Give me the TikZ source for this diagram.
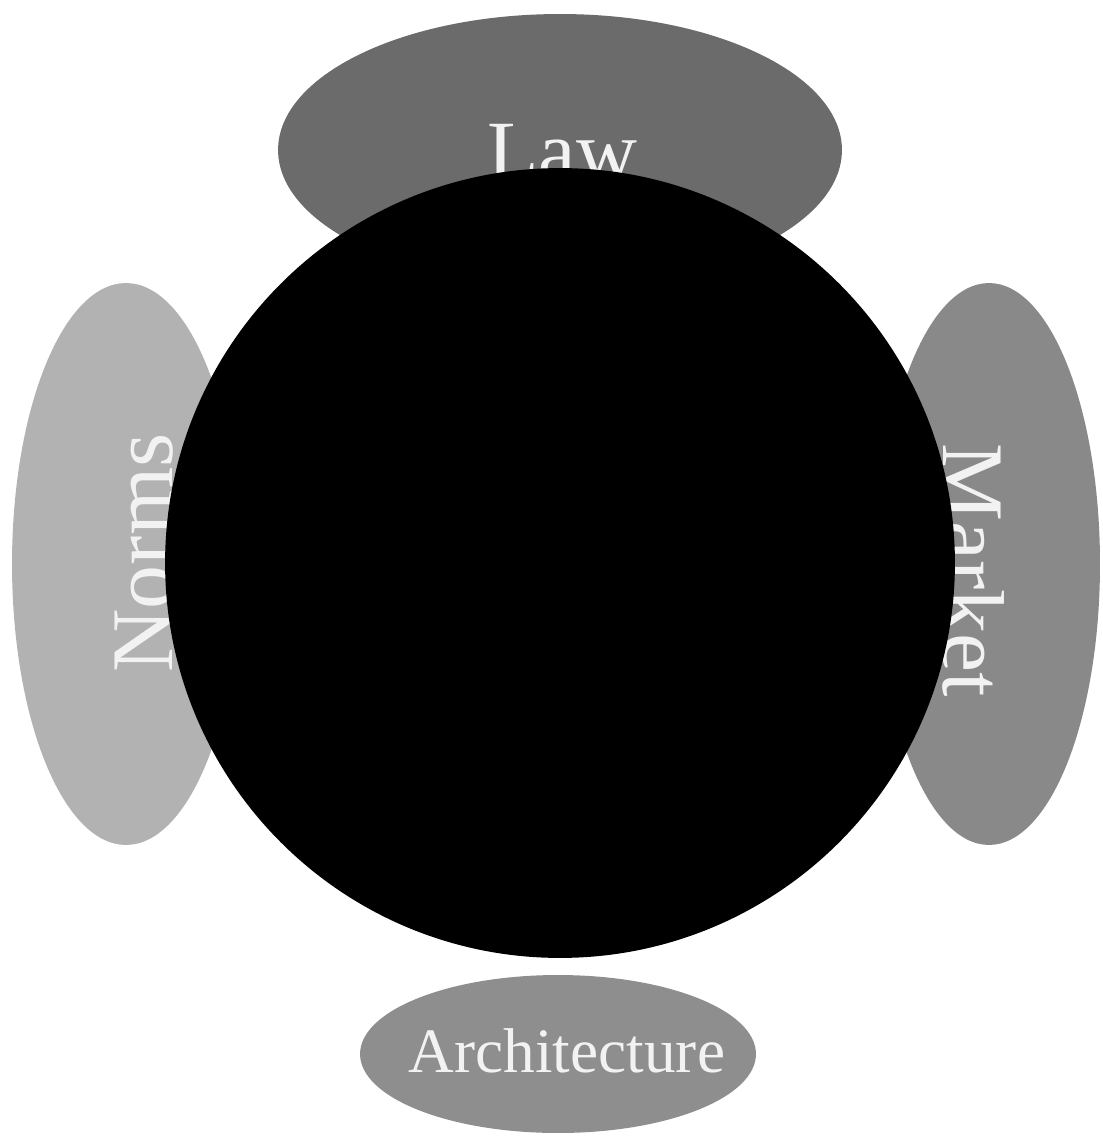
\documentclass[tikz,border=0pt]{standalone}
\usepackage{fontspec}
\setmainfont{Liberation Serif}
\usepackage{tikz}
\usetikzlibrary{shapes.geometric,positioning}
\definecolor{lawgray}{RGB}{107, 107, 107}
\definecolor{normsgray}{RGB}{178, 178, 178}
\definecolor{marketgray}{RGB}{137, 137, 137}
\definecolor{archgray}{RGB}{142, 142, 142}
\definecolor{labelwhite}{RGB}{242, 242, 242}

\begin{document}
\begin{tikzpicture}[x=0.02cm, y=-0.02cm,
        blob/.style={ellipse, draw=none, inner sep=0pt},
        force/.style={text=labelwhite, anchor=base, inner sep=0pt}]
        \useasboundingbox (0, 0) rectangle (1102, 1138);
        % The four constraints around the dot
        \node[blob, fill=lawgray, minimum width=11.28cm, minimum height=5.44cm] (law) at (560, 150) {};
        \node[blob, fill=normsgray, minimum width=4.56cm, minimum height=11.24cm] (norms) at (126, 564) {};
        \node[blob, fill=marketgray, minimum width=4.44cm, minimum height=11.24cm] (market) at (989, 564) {};
        \node[blob, fill=archgray, minimum width=7.92cm, minimum height=3.16cm] (arch) at (558, 1054) {};
        
        % Labels
        \node[force, font=\fontsize{48}{52}\selectfont] (lawtext) at (562, 180) {Law};
        \node[force, rotate=90, font=\fontsize{50}{54}\selectfont] (normstext) at (172, 553) {Norms};
        \node[force, rotate=-90, font=\fontsize{50}{54}\selectfont] (markettext) at (943, 570) {Market};
        \node[force, font=\fontsize{36}{40}\selectfont] (archtext) at (567, 1072) {Architecture};
        
        % The regulated dot
        \node[circle, fill=black, inner sep=0pt, minimum size=15.8cm] (dot) at (560, 563) {};
    \end{tikzpicture}
\end{document}
